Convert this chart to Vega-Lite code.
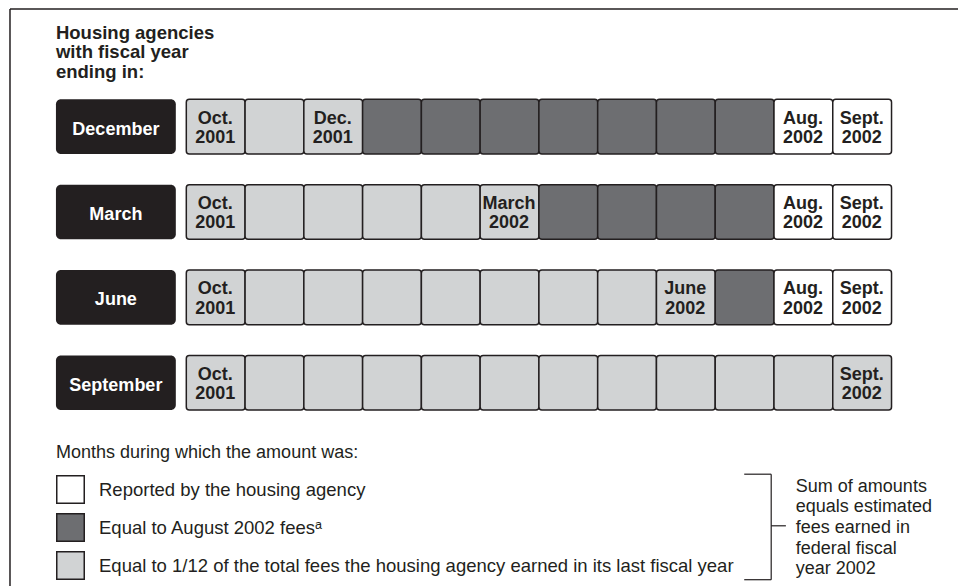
{
  "$schema": "https://vega.github.io/schema/vega-lite/v6.json",
  "width": 959,
  "height": 587,
  "autosize": {"type": "fit", "contains": "padding"},
  "padding": 0,
  "background": "white",
  "config": {
    "view": {"stroke": null},
    "font": "Liberation Sans"
  },
  "datasets": {
    "one": [{}],
    "agencies": [
      {"fy": "December", "r": 0},
      {"fy": "March", "r": 1},
      {"fy": "June", "r": 2},
      {"fy": "September", "r": 3}
    ],
    "cells": [
      {"fy": "December", "r": 0, "m": 0, "cat": "est", "label": "Oct.\n2001"},
      {"fy": "December", "r": 0, "m": 1, "cat": "est", "label": ""},
      {"fy": "December", "r": 0, "m": 2, "cat": "est", "label": "Dec.\n2001"},
      {"fy": "December", "r": 0, "m": 3, "cat": "aug", "label": ""},
      {"fy": "December", "r": 0, "m": 4, "cat": "aug", "label": ""},
      {"fy": "December", "r": 0, "m": 5, "cat": "aug", "label": ""},
      {"fy": "December", "r": 0, "m": 6, "cat": "aug", "label": ""},
      {"fy": "December", "r": 0, "m": 7, "cat": "aug", "label": ""},
      {"fy": "December", "r": 0, "m": 8, "cat": "aug", "label": ""},
      {"fy": "December", "r": 0, "m": 9, "cat": "aug", "label": ""},
      {"fy": "December", "r": 0, "m": 10, "cat": "rep", "label": "Aug.\n2002"},
      {"fy": "December", "r": 0, "m": 11, "cat": "rep", "label": "Sept.\n2002"},
      {"fy": "March", "r": 1, "m": 0, "cat": "est", "label": "Oct.\n2001"},
      {"fy": "March", "r": 1, "m": 1, "cat": "est", "label": ""},
      {"fy": "March", "r": 1, "m": 2, "cat": "est", "label": ""},
      {"fy": "March", "r": 1, "m": 3, "cat": "est", "label": ""},
      {"fy": "March", "r": 1, "m": 4, "cat": "est", "label": ""},
      {"fy": "March", "r": 1, "m": 5, "cat": "est", "label": "March\n2002"},
      {"fy": "March", "r": 1, "m": 6, "cat": "aug", "label": ""},
      {"fy": "March", "r": 1, "m": 7, "cat": "aug", "label": ""},
      {"fy": "March", "r": 1, "m": 8, "cat": "aug", "label": ""},
      {"fy": "March", "r": 1, "m": 9, "cat": "aug", "label": ""},
      {"fy": "March", "r": 1, "m": 10, "cat": "rep", "label": "Aug.\n2002"},
      {"fy": "March", "r": 1, "m": 11, "cat": "rep", "label": "Sept.\n2002"},
      {"fy": "June", "r": 2, "m": 0, "cat": "est", "label": "Oct.\n2001"},
      {"fy": "June", "r": 2, "m": 1, "cat": "est", "label": ""},
      {"fy": "June", "r": 2, "m": 2, "cat": "est", "label": ""},
      {"fy": "June", "r": 2, "m": 3, "cat": "est", "label": ""},
      {"fy": "June", "r": 2, "m": 4, "cat": "est", "label": ""},
      {"fy": "June", "r": 2, "m": 5, "cat": "est", "label": ""},
      {"fy": "June", "r": 2, "m": 6, "cat": "est", "label": ""},
      {"fy": "June", "r": 2, "m": 7, "cat": "est", "label": ""},
      {"fy": "June", "r": 2, "m": 8, "cat": "est", "label": "June\n2002"},
      {"fy": "June", "r": 2, "m": 9, "cat": "aug", "label": ""},
      {"fy": "June", "r": 2, "m": 10, "cat": "rep", "label": "Aug.\n2002"},
      {"fy": "June", "r": 2, "m": 11, "cat": "rep", "label": "Sept.\n2002"},
      {"fy": "September", "r": 3, "m": 0, "cat": "est", "label": "Oct.\n2001"},
      {"fy": "September", "r": 3, "m": 1, "cat": "est", "label": ""},
      {"fy": "September", "r": 3, "m": 2, "cat": "est", "label": ""},
      {"fy": "September", "r": 3, "m": 3, "cat": "est", "label": ""},
      {"fy": "September", "r": 3, "m": 4, "cat": "est", "label": ""},
      {"fy": "September", "r": 3, "m": 5, "cat": "est", "label": ""},
      {"fy": "September", "r": 3, "m": 6, "cat": "est", "label": ""},
      {"fy": "September", "r": 3, "m": 7, "cat": "est", "label": ""},
      {"fy": "September", "r": 3, "m": 8, "cat": "est", "label": ""},
      {"fy": "September", "r": 3, "m": 9, "cat": "est", "label": ""},
      {"fy": "September", "r": 3, "m": 10, "cat": "est", "label": ""},
      {"fy": "September", "r": 3, "m": 11, "cat": "est", "label": "Sept.\n2002"}
    ]
  },
  "layer": [
    {
      "data": {"name": "one"},
      "mark": {"type": "rule", "stroke": "#231f20", "strokeWidth": 1.5},
      "encoding": {
        "x": {"datum": -2.9917, "type": "quantitative", "scale": {"domain": [-3.1617, 13.1396], "nice": false, "zero": false}, "axis": null},
        "x2": {"datum": 13.1396},
        "y": {"datum": -1.0526, "type": "quantitative", "scale": {"domain": [-1.1579, 5.7076], "nice": false, "zero": false, "reverse": true}, "axis": null}
      }
    },
    {
      "data": {"name": "one"},
      "mark": {"type": "rule", "stroke": "#231f20", "strokeWidth": 1.5},
      "encoding": {
        "x": {"datum": -2.9917, "type": "quantitative"},
        "y": {"datum": -1.0526, "type": "quantitative"},
        "y2": {"datum": 5.7076}
      }
    },
    {
      "data": {"name": "one"},
      "mark": {"type": "text", "align": "left", "baseline": "alphabetic", "fontSize": 18.5, "fontWeight": "bold", "color": "#231f20", "lineBreak": "\n", "lineHeight": 19.5, "text": "Housing agencies\nwith fiscal year\nending in:"},
      "encoding": {
        "x": {"datum": -2.2098, "type": "quantitative"},
        "y": {"datum": -0.7018, "type": "quantitative"}
      }
    },
    {
      "data": {"name": "agencies"},
      "mark": {"type": "rect", "fill": "#231f20", "cornerRadius": 5},
      "encoding": {
        "x": {"datum": -2.2098, "type": "quantitative"},
        "x2": {"datum": -0.17},
        "y": {"field": "r", "type": "quantitative", "bin": {"binned": true, "step": 0.64}}
      }
    },
    {
      "data": {"name": "agencies"},
      "mark": {"type": "text", "align": "center", "baseline": "alphabetic", "fontSize": 18, "fontWeight": "bold", "color": "white", "dy": 35.8},
      "encoding": {
        "x": {"datum": -1.19, "type": "quantitative"},
        "y": {"field": "r", "type": "quantitative", "bin": {"binned": true, "step": 0.64}},
        "text": {"field": "fy", "type": "nominal"}
      }
    },
    {
      "data": {"name": "cells"},
      "mark": {"type": "rect", "stroke": "#231f20", "strokeWidth": 1.5, "cornerRadius": 3},
      "encoding": {
        "x": {"field": "m", "type": "quantitative", "bin": {"binned": true, "step": 1}},
        "y": {"field": "r", "type": "quantitative", "bin": {"binned": true, "step": 0.64}},
        "fill": {
          "field": "cat",
          "type": "nominal",
          "scale": {"domain": ["rep", "aug", "est"], "range": ["#ffffff", "#6d6e71", "#d1d3d4"]},
          "legend": {
            "orient": "none",
            "legendX": 56,
            "legendY": 444,
            "direction": "vertical",
            "title": "Months during which the amount was:",
            "titleFont": "Liberation Sans",
            "titleFontSize": 18,
            "titleFontWeight": "normal",
            "titleColor": "#231f20",
            "titlePadding": 13,
            "titleLimit": 0,
            "labelFont": "Liberation Sans",
            "labelFontSize": 18.5,
            "labelColor": "#231f20",
            "labelLimit": 0,
            "labelOffset": 14,
            "symbolType": "square",
            "symbolSize": 756,
            "symbolStrokeColor": "#231f20",
            "symbolStrokeWidth": 1.5,
            "rowPadding": 3,
            "padding": 0,
            "labelExpr": "datum.label == 'rep' ? 'Reported by the housing agency' : datum.label == 'aug' ? 'Equal to August 2002 fees\u1d43' : 'Equal to 1/12 of the total fees the housing agency earned in its last fiscal year'"
          }
        }
      }
    },
    {
      "data": {"name": "cells"},
      "transform": [{"filter": "datum.label != ''"}],
      "mark": {"type": "text", "align": "center", "baseline": "alphabetic", "fontSize": 18, "fontWeight": "bold", "color": "#231f20", "lineBreak": "\n", "lineHeight": 19.4, "dx": 29.4, "dy": 24.8},
      "encoding": {
        "x": {"field": "m", "type": "quantitative", "bin": {"binned": true, "step": 1}},
        "y": {"field": "r", "type": "quantitative", "bin": {"binned": true, "step": 0.64}},
        "text": {"field": "label", "type": "nominal"}
      }
    },
    {
      "data": {"name": "one"},
      "mark": {"type": "rule", "stroke": "#231f20", "strokeWidth": 1.2},
      "encoding": {
        "x": {"datum": 9.502, "type": "quantitative"},
        "x2": {"datum": 9.961},
        "y": {"datum": 4.3977, "type": "quantitative"}
      }
    },
    {
      "data": {"name": "one"},
      "mark": {"type": "rule", "stroke": "#231f20", "strokeWidth": 1.2},
      "encoding": {
        "x": {"datum": 9.502, "type": "quantitative"},
        "x2": {"datum": 9.961},
        "y": {"datum": 5.6339, "type": "quantitative"}
      }
    },
    {
      "data": {"name": "one"},
      "mark": {"type": "rule", "stroke": "#231f20", "strokeWidth": 1.2},
      "encoding": {
        "x": {"datum": 9.961, "type": "quantitative"},
        "y": {"datum": 4.3977, "type": "quantitative"},
        "y2": {"datum": 5.6339}
      }
    },
    {
      "data": {"name": "one"},
      "mark": {"type": "rule", "stroke": "#231f20", "strokeWidth": 1.2},
      "encoding": {
        "x": {"datum": 9.961, "type": "quantitative"},
        "x2": {"datum": 10.211},
        "y": {"datum": 5.0023, "type": "quantitative"}
      }
    },
    {
      "data": {"name": "one"},
      "mark": {"type": "text", "align": "left", "baseline": "alphabetic", "fontSize": 18, "color": "#231f20", "lineBreak": "\n", "lineHeight": 20.6, "text": "Sum of amounts\nequals estimated\nfees earned in\nfederal fiscal\nyear 2002"},
      "encoding": {
        "x": {"datum": 10.38, "type": "quantitative"},
        "y": {"datum": 4.6047, "type": "quantitative"}
      }
    }
  ]
}
